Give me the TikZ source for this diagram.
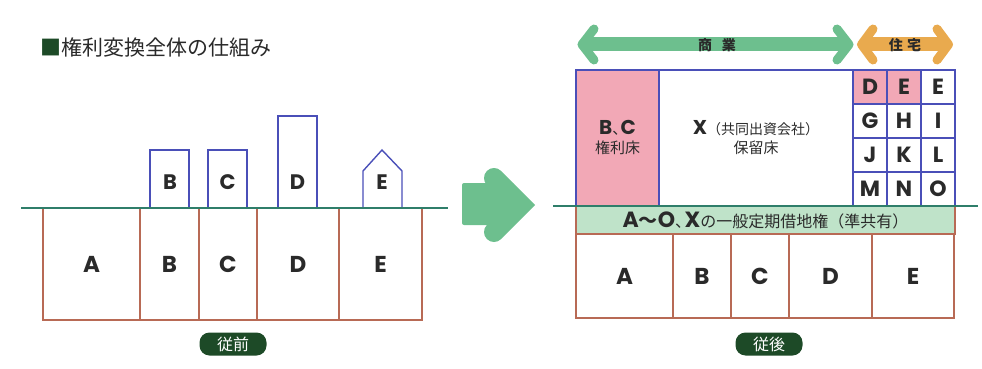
\documentclass[tikz,border=0pt]{standalone}
\usepackage{fontspec}
\setmainfont{Noto Sans CJK JP}
\newfontfamily\lat{Poppins}
\usetikzlibrary{positioning}

\definecolor{groundgreen}{HTML}{2F7E6A}
\definecolor{lotline}{HTML}{B86A55}
\definecolor{bldgline}{HTML}{4A4FB8}
\definecolor{floorpink}{HTML}{F2A8B6}
\definecolor{leasegreen}{HTML}{BFE3C9}
\definecolor{shopgreen}{HTML}{6DBF8E}
\definecolor{homeorange}{HTML}{E9AA4E}
\definecolor{tagdark}{HTML}{1D4A27}
\definecolor{inkgray}{HTML}{2A2A2A}

\begin{document}
\begin{tikzpicture}[
  x=1pt, y=-1pt,
  lot/.style = {draw=lotline, line width=1.2pt, inner sep=0pt, outer sep=0pt, text=inkgray, font=\lat\bfseries\fontsize{23}{23}\selectfont},
  bldg/.style = {draw=bldgline, line width=1.4pt, minimum width=39pt, inner sep=0pt, outer sep=0pt},
  letter/.style = {text=inkgray, font=\lat\bfseries\fontsize{21}{21}\selectfont},
  cell/.style = {draw=bldgline, line width=1.2pt, minimum size=34pt, inner sep=0pt, outer sep=0pt, text=inkgray, font=\lat\bfseries\fontsize{22}{22}\selectfont},
  floorbox/.style = {draw=bldgline, line width=1.2pt, minimum height=136pt, inner sep=0pt, outer sep=0pt, align=center, text=inkgray, font=\fontsize{15}{19}\selectfont},
  tag/.style = {fill=tagdark, text=white, rounded corners=10pt, minimum width=67pt, minimum height=23pt, inner sep=0pt, font=\fontsize{16}{16}\selectfont},
  groundline/.style = {draw=groundgreen, line width=2.6pt},
  span/.style = {line width=9pt, line cap=round, line join=round},
  spanlabel/.style = {text=inkgray, font=\bfseries\fontsize{14}{14}\selectfont}
]
  \useasboundingbox (0,0) rectangle (982,369);

  % Title
  \node[anchor=west, inner sep=0pt, text=inkgray, font=\fontsize{21}{21}\selectfont] (title) at (40,47)
    {\textcolor{tagdark}{■}権利変換全体の仕組み};

  % ---------- before ----------
  % Lots
  \node[lot, minimum width=97pt, minimum height=112pt, anchor=north west] (lotA) at (43,208) {A};
  \node[lot, minimum width=59pt, minimum height=112pt, right=0pt of lotA] (lotB) {B};
  \node[lot, minimum width=58pt, minimum height=112pt, right=0pt of lotB] (lotC) {C};
  \node[lot, minimum width=82pt, minimum height=112pt, right=0pt of lotC] (lotD) {D};
  \node[lot, minimum width=83pt, minimum height=112pt, right=0pt of lotD] (lotE) {E};

  % Buildings
  \node[bldg, minimum height=58pt, anchor=south west] (bldgB) at (150,208) {};
  \node[bldg, minimum height=58pt, anchor=south west] (bldgC) at (208,208) {};
  \node[bldg, minimum height=92pt, anchor=south west] (bldgD) at (278,208) {};
  \draw[draw=bldgline, line width=1.4pt] (363,208) -- (363,171) -- (382,150) -- (402,171) -- (402,208);
  \node[letter] (nameB) at (170,182) {B};
  \node[letter] (nameC) at (bldgC |- nameB) {C};
  \node[letter] (nameD) at (bldgD |- nameB) {D};
  \node[letter] (nameE) at (382,182) {E};

  \draw[groundline] (21,208) -- (448,208);

  \node[tag] (before) at (233,344) {従前};

  % Transition arrow
  \fill[shopgreen, rounded corners=2pt] (462,183) rectangle (514,225);
  \draw[shopgreen, line width=20pt, line cap=round, line join=miter] (494,178) -- (521,205) -- (494,232);

  % ---------- after ----------
  % Use spans
  \fill[shopgreen] (588,37.5) rectangle (843,51.5);
  \draw[span, shopgreen] (594,29) -- (582,44.5) -- (594,60);
  \draw[span, shopgreen] (837,29) -- (849,44.5) -- (837,60);
  \fill[homeorange] (864,37.5) rectangle (946,51.5);
  \draw[span, homeorange] (873,29) -- (861.5,44.5) -- (873,60);
  \draw[span, homeorange] (937,29) -- (948.5,44.5) -- (937,60);
  \node[spanlabel] (shop) at (717,45) {商\hspace{0.7em}業};
  \node[spanlabel] (home) at (905,45) {住\hspace{0.3em}宅};

  % Floors
  \node[floorbox, fill=floorpink, minimum width=83pt, anchor=north west] (bc) at (576,70)
    {{\lat\bfseries\fontsize{20}{20}\selectfont B}、\kern-.45em{\lat\bfseries\fontsize{20}{20}\selectfont C}\\権利床};
  \node[floorbox, minimum width=194pt, anchor=north west] (xbox) at (bc.north east)
    {{\lat\bfseries\fontsize{20}{20}\selectfont X}{\fontsize{14}{14}\selectfont（共同出資会社）}\\保留床};

  % Residential units
  \node[cell, fill=floorpink, anchor=north west] (cellD) at (xbox.north east) {D};
  \node[cell, fill=floorpink, right=0pt of cellD] (cellE) {E};
  \node[cell, right=0pt of cellE] (cellEE) {E};
  \node[cell, below=0pt of cellD] (cellG) {G};
  \node[cell, right=0pt of cellG] (cellH) {H};
  \node[cell, right=0pt of cellH] (cellI) {I};
  \node[cell, below=0pt of cellG] (cellJ) {J};
  \node[cell, right=0pt of cellJ] (cellK) {K};
  \node[cell, right=0pt of cellK] (cellL) {L};
  \node[cell, below=0pt of cellJ] (cellM) {M};
  \node[cell, right=0pt of cellM] (cellN) {N};
  \node[cell, right=0pt of cellN] (cellO) {O};

  % Leasehold band
  \node[draw=lotline, line width=1.2pt, fill=leasegreen, minimum width=379pt, minimum height=28pt,
        inner sep=0pt, outer sep=0pt, anchor=north west, text=inkgray, font=\fontsize{16}{16}\selectfont] (lease) at (bc.south west)
    {{\lat\bfseries\fontsize{22}{22}\selectfont A}{\bfseries\fontsize{19}{19}\selectfont 〜}{\lat\bfseries\fontsize{22}{22}\selectfont O}、\kern-.4em{\lat\bfseries\fontsize{22}{22}\selectfont X}の一般定期借地権（準共有）};

  % Lots
  \node[lot, minimum width=97pt, minimum height=84pt, anchor=north west] (newA) at (lease.south west) {A};
  \node[lot, minimum width=58pt, minimum height=84pt, right=0pt of newA] (newB) {B};
  \node[lot, minimum width=58pt, minimum height=84pt, right=0pt of newB] (newC) {C};
  \node[lot, minimum width=83pt, minimum height=84pt, right=0pt of newC] (newD) {D};
  \node[lot, minimum width=82pt, minimum height=84pt, right=0pt of newD] (newE) {E};

  \draw[groundline] (553,206) -- (978,206);

  \node[tag] (after) at (769,344) {従後};

\end{tikzpicture}
\end{document}
